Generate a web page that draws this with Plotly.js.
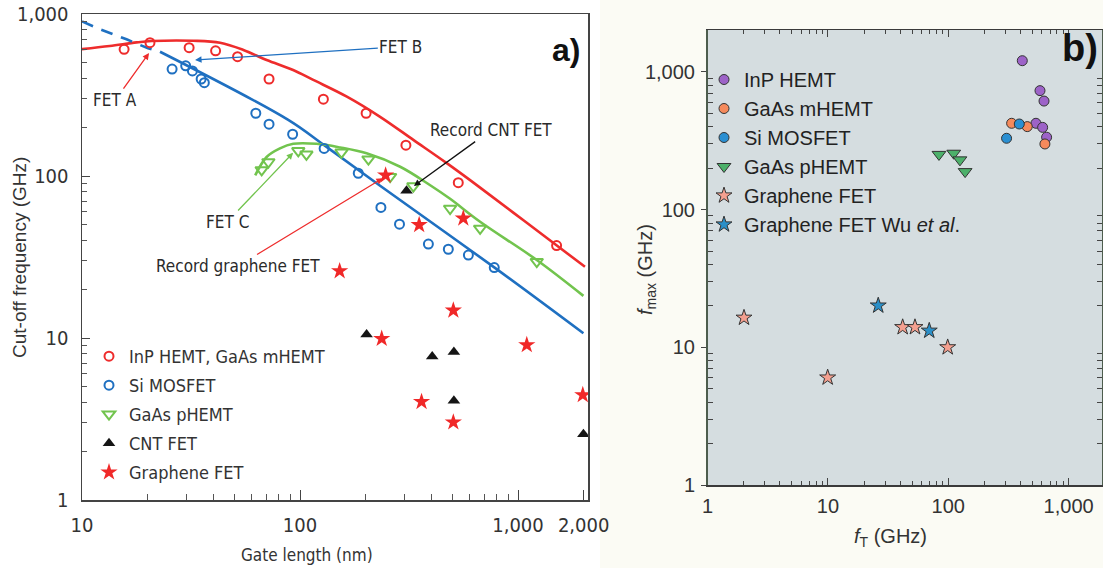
<!DOCTYPE html>
<html>
<head>
<meta charset="utf-8">
<script src="https://cdn.plot.ly/plotly-3.0.1.min.js"></script>
<style>
  html, body { margin: 0; padding: 0; background: #ffffff; }
  #chart { width: 1103px; height: 568px; }
</style>
</head>
<body>
<div id="chart"></div>
<script>
// ---------- Panel a) : cut-off frequency vs gate length ----------
const inpX = [15.6, 20.5, 31.0, 41.0, 51.7, 72.1, 128, 201, 306, 532, 1503];
const inpY = [605, 665, 620, 593, 545, 397, 298, 244, 155, 91, 37.2];

const siX = [25.9, 29.9, 32.1, 35.2, 36.4, 62.7, 72.1, 92.5, 129, 185, 235, 286, 388, 479, 592, 778];
const siY = [457, 479, 445, 397, 377, 244, 209, 181, 148, 104, 64, 50.4, 38, 35.3, 32.5, 27.2];

const phemtX = [66.7, 71.6, 98.2, 107, 155, 206, 259, 331, 488, 670, 1219];
const phemtY = [109, 122, 143, 136, 140, 127, 99, 86.7, 63, 47.5, 29.6];

const cntX = [202, 308, 404, 508, 508, 1995];
const cntY = [10.5, 81, 7.7, 8.2, 4.1, 2.55];

const grX = [152, 247, 237, 352, 561, 505, 1097, 361, 505, 1982];
const grY = [25.9, 101, 9.9, 49.9, 54.8, 14.8, 9.06, 4.04, 3.02, 4.45];

// model curves
const fetAX = [10, 13.4, 17.8, 20.9, 32.4, 43, 55, 70.3, 93, 115, 164, 233, 331, 471, 670, 951, 1352, 2028];
const fetAY = [607, 634, 668, 681, 684, 665, 600, 520, 451, 392, 309, 232, 167, 120, 84.8, 59.4, 41.6, 27.5];

const fetBDashX = [10, 12.1, 16, 20.1, 22.8];
const fetBDashY = [900, 805, 698, 614, 585];
const fetBX = [22.8, 88.3, 129, 233, 778, 1995];
const fetBY = [585, 222, 155, 87, 27.3, 10.7];

const fetCX = [62.3, 70.3, 80.9, 93.1, 119, 153, 202, 288, 394, 488, 670, 1219, 1995];
const fetCY = [101, 131, 148, 158, 158, 150, 138, 114, 88, 72.3, 52.2, 30.3, 18.2];

const aTickVals = [10, 100, 1000, 2000];
const aTickText = ['10', '100', '1,000', '2,000'];
const aYTickVals = [1, 10, 100, 1000];
const aYTickText = ['1', '10', '100', '1,000'];
const minorX_a = [20, 30, 40, 50, 60, 70, 80, 90, 200, 300, 400, 500, 600, 700, 800, 900];
const minorY_a = [2, 3, 4, 5, 6, 7, 8, 9, 20, 30, 40, 50, 60, 70, 80, 90, 200, 300, 400, 500, 600, 700, 800, 900];

// callout labels: text position and arrow head, in (nm, GHz)
const labelsA = [
  {text: 'FET A', pos: [14.2, 294], head: [20.3, 574], color: '#ee2c2c'},
  {text: 'FET B', pos: [290, 628], head: [33, 520], color: '#1f70c1'},
  {text: 'FET C', pos: [46.3, 52], head: [93, 139], color: '#72c44e'},
  {text: 'Record CNT FET', pos: [752, 192], head: [333, 86.7], color: '#111111'},
  {text: 'Record graphene FET', pos: [52, 27.8], head: [240, 97], color: '#ee2c2c'}
];

// ---------- Panel b) : fmax vs fT ----------
const bInpX = [412, 578, 624, 535, 608, 656];
const bInpY = [1208, 732, 615, 424, 396, 336];
const bMhemtX = [336, 453, 635];
const bMhemtY = [424, 401, 300];
const bSiX = [305, 389];
const bSiY = [330, 419];
const bPhemtX = [83.7, 111, 125, 138];
const bPhemtY = [252, 257, 230, 189];
const bGrX = [2.01, 9.96, 41.8, 52.9, 98.9];
const bGrY = [16.4, 6.03, 14.0, 14.0, 10];
const bWuX = [26.2, 69.5];
const bWuY = [20.1, 13.2];

const bTickVals = [1, 10, 100, 1000];
const bTickText = ['1', '10', '100', '1,000'];
const minorB = [2, 3, 4, 5, 6, 7, 8, 9, 20, 30, 40, 50, 60, 70, 80, 90, 200, 300, 400, 500, 600, 700, 800, 900];

// ---------- styling ----------
const W = 1103, H = 568;
const narrow = '"Liberation Sans Narrow", "DejaVu Sans Condensed", "Arial Narrow", sans-serif';
const sans = '"Liberation Sans", Arial, Helvetica, sans-serif';
const RED = '#ee2c2c', BLUE = '#1f70c1', GREEN = '#72c44e';

const lg = Math.log10;

const traces = [
  {x: fetAX, y: fetAY, mode: 'lines', line: {color: RED, width: 2.6, shape: 'spline'}, showlegend: false, hoverinfo: 'skip'},
  {x: fetBDashX, y: fetBDashY, mode: 'lines', line: {color: BLUE, width: 2.6, dash: '12px,9px'}, showlegend: false, hoverinfo: 'skip'},
  {x: fetBX, y: fetBY, mode: 'lines', line: {color: BLUE, width: 2.6, shape: 'spline'}, showlegend: false, hoverinfo: 'skip'},
  {x: fetCX, y: fetCY, mode: 'lines', line: {color: GREEN, width: 2.6, shape: 'spline'}, showlegend: false, hoverinfo: 'skip'},

  {x: inpX, y: inpY, mode: 'markers', name: 'InP HEMT, GaAs mHEMT', legend: 'legend', legendgroup: 'a1',
   marker: {symbol: 'circle-open', size: 9, color: RED, line: {width: 2, color: RED}}},
  {x: siX, y: siY, mode: 'markers', name: 'Si MOSFET', legend: 'legend', legendgroup: 'a2',
   marker: {symbol: 'circle-open', size: 9, color: BLUE, line: {width: 2, color: BLUE}}},
  {x: phemtX, y: phemtY, mode: 'markers', name: 'GaAs pHEMT', legend: 'legend', legendgroup: 'a3',
   marker: {symbol: 'triangle-down-open', size: 11, color: GREEN, line: {width: 2, color: GREEN}}},
  {x: cntX, y: cntY, mode: 'markers', name: 'CNT FET', legend: 'legend', legendgroup: 'a4',
   marker: {symbol: 'triangle-up', size: 11, color: '#151515'}},
  {x: grX, y: grY, mode: 'markers', name: 'Graphene FET', legend: 'legend', legendgroup: 'a5',
   marker: {symbol: 'star', size: 13, color: '#f02828'}},

  {x: bInpX, y: bInpY, xaxis: 'x2', yaxis: 'y2', mode: 'markers', name: 'InP HEMT', legend: 'legend2',
   marker: {symbol: 'circle', size: 10, color: '#9d63c8', line: {width: 1, color: '#333'}}},
  {x: bMhemtX, y: bMhemtY, xaxis: 'x2', yaxis: 'y2', mode: 'markers', name: 'GaAs mHEMT', legend: 'legend2',
   marker: {symbol: 'circle', size: 10, color: '#f58a5c', line: {width: 1, color: '#333'}}},
  {x: bSiX, y: bSiY, xaxis: 'x2', yaxis: 'y2', mode: 'markers', name: 'Si MOSFET', legend: 'legend2',
   marker: {symbol: 'circle', size: 10, color: '#2a8fd2', line: {width: 1, color: '#333'}}},
  {x: bPhemtX, y: bPhemtY, xaxis: 'x2', yaxis: 'y2', mode: 'markers', name: 'GaAs pHEMT', legend: 'legend2',
   marker: {symbol: 'triangle-down', size: 12, color: '#4cb06a', line: {width: 1, color: '#333'}}},
  {x: bGrX, y: bGrY, xaxis: 'x2', yaxis: 'y2', mode: 'markers', name: 'Graphene FET', legend: 'legend2',
   marker: {symbol: 'star', size: 12, color: '#f4a090', line: {width: 1, color: '#333'}}},
  {x: bWuX, y: bWuY, xaxis: 'x2', yaxis: 'y2', mode: 'markers', name: 'Graphene FET Wu <i>et al</i>.', legend: 'legend2',
   marker: {symbol: 'star', size: 12, color: '#2a8fc8', line: {width: 1, color: '#333'}}}
];

const annotations = labelsA.map(function (l) {
  return {xref: 'x', yref: 'y', axref: 'x', ayref: 'y',
    x: lg(l.head[0]), y: lg(l.head[1]), ax: lg(l.pos[0]), ay: lg(l.pos[1]),
    text: l.text, showarrow: true, arrowhead: 2, arrowsize: 1, arrowwidth: 1.3,
    arrowcolor: l.color, standoff: 0, startstandoff: 0,
    font: {family: narrow, size: 17, color: '#2a2a2a'}};
});

function paperText(txt, px, py, font, angle) {
  return {xref: 'paper', yref: 'paper', x: px / W, y: 1 - py / H, xanchor: 'center', yanchor: 'middle',
    text: txt, showarrow: false, textangle: angle || 0, font: font};
}
annotations.push(
  paperText('<b>a)</b>', 566, 50, {family: sans, size: 32, color: '#111'}),
  paperText('<b>b)</b>', 1080, 48, {family: sans, size: 38, color: '#111'}),
  paperText('Cut-off frequency (GHz)', 19, 258, {family: sans, size: 19, color: '#333'}, -90),
  paperText('Gate length (nm)', 307, 555, {family: narrow, size: 17, color: '#333'}),
  paperText('<i>f</i><sub>max</sub> (GHz)', 647, 270, {family: sans, size: 20, color: '#333'}, -90),
  paperText('<i>f</i><sub>T</sub> (GHz)', 890, 537, {family: sans, size: 20, color: '#333'})
);

const layout = {
  width: W, height: H,
  margin: {l: 0, r: 0, t: 0, b: 0},
  paper_bgcolor: '#ffffff',
  plot_bgcolor: 'rgba(0,0,0,0)',
  showlegend: true,
  xaxis: {
    type: 'log', domain: [82 / W, 588 / W], range: [1, 3.321], anchor: 'y',
    tickmode: 'array', tickvals: aTickVals, ticktext: aTickText,
    ticks: 'inside', ticklen: 10, tickwidth: 1, tickcolor: '#444', ticklabelstandoff: 6,
    showline: true, linecolor: '#444', linewidth: 1.5, mirror: true,
    showgrid: false, zeroline: false,
    tickfont: {family: narrow, size: 20, color: '#333'},
    minor: {tickmode: 'array', tickvals: minorX_a, ticks: 'inside', ticklen: 6, tickcolor: '#555', showgrid: false}
  },
  yaxis: {
    type: 'log', domain: [(H - 500) / H, (H - 14) / H], range: [0, 3], anchor: 'x',
    tickmode: 'array', tickvals: aYTickVals, ticktext: aYTickText,
    ticks: 'inside', ticklen: 8, tickwidth: 1, tickcolor: '#444', ticklabelstandoff: 8,
    showline: true, linecolor: '#444', linewidth: 1.5, mirror: true,
    showgrid: false, zeroline: false,
    tickfont: {family: narrow, size: 20, color: '#333'},
    minor: {tickmode: 'array', tickvals: minorY_a, ticks: 'inside', ticklen: 5, tickcolor: '#555', showgrid: false}
  },
  xaxis2: {
    type: 'log', domain: [707.5 / W, 1102 / W], range: [0, 3.277], anchor: 'y2',
    tickmode: 'array', tickvals: bTickVals, ticktext: bTickText,
    ticks: 'inside', ticklen: 7, tickwidth: 1, tickcolor: '#444', ticklabelstandoff: 2,
    showline: true, linecolor: '#3a3a3a', linewidth: 1.5, mirror: 'ticks',
    showgrid: false, zeroline: false,
    tickfont: {family: sans, size: 20, color: '#333'},
    minor: {tickmode: 'array', tickvals: minorB, ticks: 'inside', ticklen: 4, tickcolor: '#444', showgrid: false}
  },
  yaxis2: {
    type: 'log', domain: [(H - 485) / H, (H - 30) / H], range: [0, 3.305], anchor: 'x2',
    tickmode: 'array', tickvals: bTickVals, ticktext: bTickText,
    ticks: 'outside', ticklen: 5, tickwidth: 1, tickcolor: '#444', ticklabelstandoff: 2,
    showline: true, linecolor: '#4d5d4d', linewidth: 1.5, mirror: 'ticks',
    showgrid: false, zeroline: false,
    tickfont: {family: sans, size: 20, color: '#333'},
    minor: {tickmode: 'array', tickvals: minorB, ticks: 'inside', ticklen: 5, tickcolor: '#444', showgrid: false}
  },
  legend: {
    x: 89 / W, y: 1 - 338 / H, xanchor: 'left', yanchor: 'top',
    bgcolor: 'rgba(0,0,0,0)', borderwidth: 0, tracegroupgap: 2.6,
    font: {family: narrow, size: 18, color: '#333'}
  },
  legend2: {
    x: 704 / W, y: 1 - 60 / H, xanchor: 'left', yanchor: 'top',
    bgcolor: 'rgba(0,0,0,0)', borderwidth: 0,
    font: {family: sans, size: 20, color: '#222'}
  },
  shapes: [
    {type: 'rect', xref: 'paper', yref: 'paper', x0: 600 / W, x1: 1, y0: 0, y1: 1,
     fillcolor: '#fbfbf4', line: {width: 0}, layer: 'below'},
    {type: 'rect', xref: 'x2 domain', yref: 'y2 domain', x0: 0, x1: 1, y0: 0, y1: 1,
     fillcolor: '#d5dde0', line: {width: 0}, layer: 'below'}
  ],
  annotations: annotations
};

Plotly.newPlot('chart', traces, layout, {staticPlot: true, displayModeBar: false});
</script>
</body>
</html>
